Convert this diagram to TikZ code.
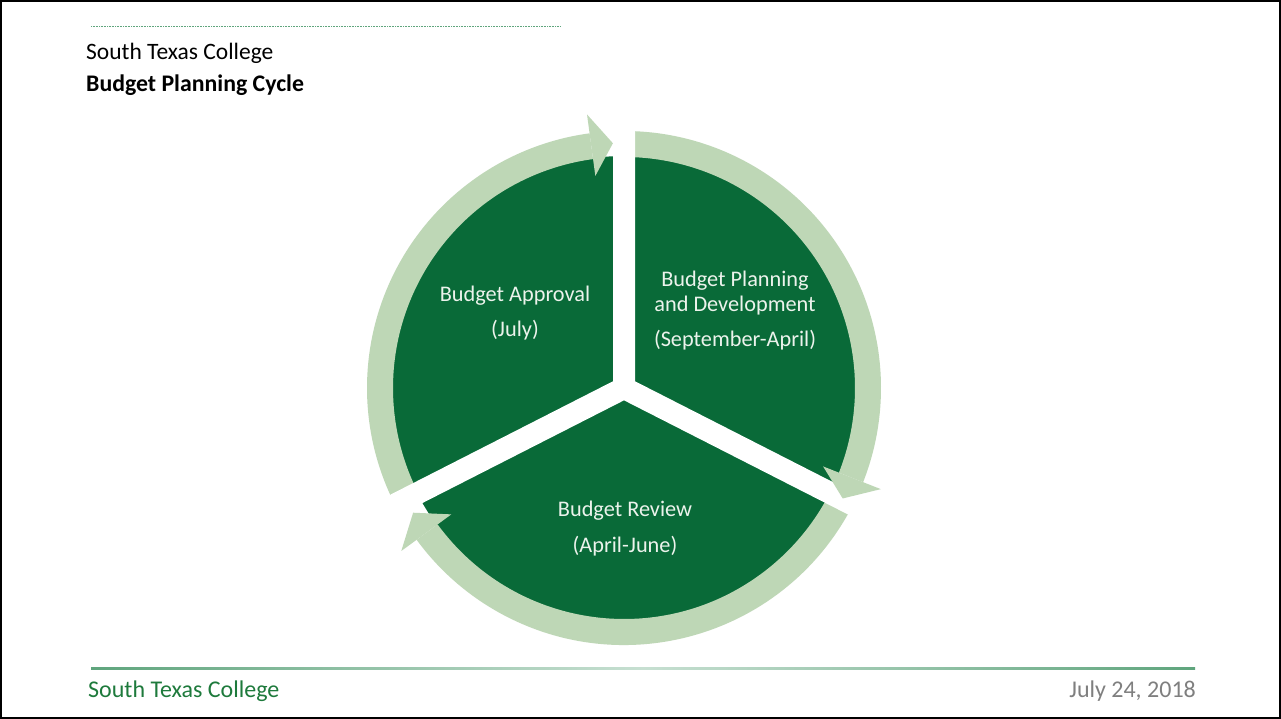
\documentclass[tikz,border=0pt]{standalone}
\usepackage{fontspec}
\setmainfont{Carlito}
\definecolor{dkgreen}{RGB}{9,106,56}
\definecolor{ltgreen}{RGB}{190,215,182}
\definecolor{txtwhite}{RGB}{236,243,236}
\definecolor{ftgreen}{RGB}{30,122,60}
\definecolor{dategray}{RGB}{127,127,127}
\definecolor{rulegreen}{RGB}{95,165,125}
\newcommand{\ringseg}[2]{\fill[ltgreen] (#1:257) arc[start angle=#1, end angle=#2, radius=257] -- (#2:231) arc[start angle=#2, end angle=#1, radius=231] -- cycle;}
\newcommand{\arrhead}[2]{\fill[ltgreen] (#1:276) -- (#2:245) -- (#1:214) -- cycle;}
\begin{document}
\begin{tikzpicture}[x=1pt,y=1pt,
  seglabel/.style={text=txtwhite, font=\fontsize{22.3}{25}\selectfont, align=center, inner sep=0},
  hdr/.style={anchor=base west, inner sep=0, font=\fontsize{23.5}{27}\selectfont},
  ftr/.style={inner sep=0, font=\fontsize{24}{28}\selectfont}
]
\useasboundingbox (0,0) rectangle (1281,719);
\fill[white] (0,0) rectangle (1281,719);
\draw[black, line width=2] (1,1) rectangle (1280,718);

% top dotted rule
\draw[rulegreen, line width=0.8, dash pattern=on 0.8pt off 0.8pt] (91,693) -- (560,693);

% header
\node[hdr] (college) at (86,659.5) {South Texas College};
\node[hdr, font=\bfseries\fontsize{23.8}{27}\selectfont] (title) at (86,627.5) {Budget Planning Cycle};

% cycle diagram
\begin{scope}[shift={(624,331)}]
  \fill[dkgreen] (0,0) circle (232);
  \ringseg{207}{97.7}
  \ringseg{90}{-21.5}
  \ringseg{-27}{-143.8}
  \draw[white, line width=22] (0,0) -- (90:272) (0,0) -- (207:272) (0,0) -- (-27:272);
  \arrhead{97.7}{92.6}
  \arrhead{-21.5}{-26.8}
  \arrhead{-143.8}{-149.4}
\end{scope}

\node[seglabel] (approval) at (515,405.5) {Budget Approval\\[10pt](July)};
\node[seglabel] (planning) at (735,408) {Budget Planning\\and Development\\[10pt](September-April)};
\node[seglabel] (review) at (625,190) {Budget Review\\[11pt](April-June)};

% footer
\shade[left color=rulegreen, right color=rulegreen, middle color=rulegreen!35] (91,49) rectangle (1195,51);
\node[ftr, anchor=base west, text=ftgreen] (footer) at (88,21) {South Texas College};
\node[ftr, anchor=base east, text=dategray] (date) at (1196,21) {July 24, 2018};
\end{tikzpicture}
\end{document}
